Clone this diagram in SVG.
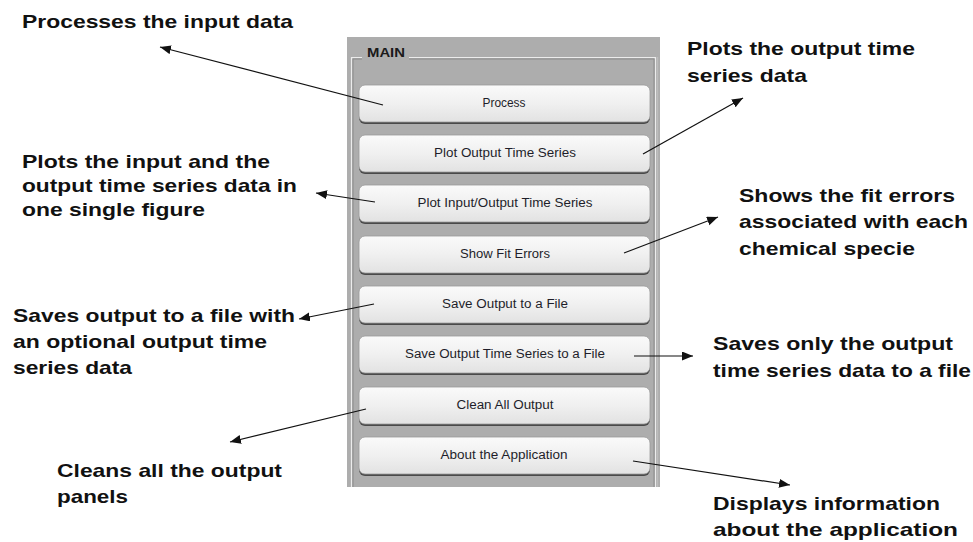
<svg xmlns="http://www.w3.org/2000/svg" width="973" height="542" viewBox="0 0 973 542">
<style>
.lbl{font-family:"Liberation Sans",Arial,sans-serif;font-weight:bold;font-size:18.5px;fill:#111}
.btxt{font-family:"Liberation Sans",Arial,sans-serif;font-size:12px;fill:#1e1e2a;text-anchor:middle}
.btn{fill:url(#bg);stroke:#9a9a9a;stroke-width:0.8}
.shadow{fill:#4a4a4a}
.conn{stroke:#111;stroke-width:1.2;fill:none;marker-end:url(#ah)}
</style>
<defs>
<linearGradient id="bg" x1="0" y1="0" x2="0" y2="1">
<stop offset="0" stop-color="#fafafa"/>
<stop offset="0.5" stop-color="#f0f0f0"/>
<stop offset="1" stop-color="#e2e2e2"/>
</linearGradient>
<marker id="ah" markerWidth="12" markerHeight="10" refX="11" refY="4.5" orient="auto" markerUnits="userSpaceOnUse">
<path d="M0,0 L11,4.5 L0,9 Z" fill="#111"/>
</marker>
</defs>
<rect width="973" height="542" fill="#fff"/>
<g id="panel">
<rect x="347" y="37" width="313" height="450" fill="#adadad"/>
<path d="M351.5,487 V57.5 H655.5 V487" fill="none" stroke="#ececec" stroke-width="1.2"/>
<path d="M353,487 V59 H654 V487" fill="none" stroke="#8c8c8c" stroke-width="1"/>
<path d="M657.5,57 V487" stroke="#bdbdbd" stroke-width="1.5"/>
<rect x="362" y="50" width="47" height="12" fill="#adadad"/>
<text x="367" y="57" style="font-family:'Liberation Sans',Arial,sans-serif;font-weight:bold;font-size:12px;fill:#1a1a1a" textLength="38" lengthAdjust="spacingAndGlyphs">MAIN</text>
</g>
<g id="btn-process"><rect class="shadow" x="359" y="87" width="291" height="37" rx="6"/><rect class="btn" x="359" y="85" width="291" height="37" rx="6"/><text class="btxt" x="504" y="107" textLength="43" lengthAdjust="spacingAndGlyphs">Process</text></g>
<g id="btn-plot-output"><rect class="shadow" x="359" y="137" width="291" height="37" rx="6"/><rect class="btn" x="359" y="135" width="291" height="37" rx="6"/><text class="btxt" x="505" y="157" textLength="142" lengthAdjust="spacingAndGlyphs">Plot Output Time Series</text></g>
<g id="btn-plot-io"><rect class="shadow" x="359" y="187" width="291" height="37" rx="6"/><rect class="btn" x="359" y="185" width="291" height="37" rx="6"/><text class="btxt" x="505" y="207" textLength="175" lengthAdjust="spacingAndGlyphs">Plot Input/Output Time Series</text></g>
<g id="btn-fit-errors"><rect class="shadow" x="359" y="238" width="291" height="37" rx="6"/><rect class="btn" x="359" y="236" width="291" height="37" rx="6"/><text class="btxt" x="505" y="258" textLength="90" lengthAdjust="spacingAndGlyphs">Show Fit Errors</text></g>
<g id="btn-save-output"><rect class="shadow" x="359" y="288" width="291" height="37" rx="6"/><rect class="btn" x="359" y="286" width="291" height="37" rx="6"/><text class="btxt" x="505" y="308" textLength="126" lengthAdjust="spacingAndGlyphs">Save Output to a File</text></g>
<g id="btn-save-ts"><rect class="shadow" x="359" y="338" width="291" height="37" rx="6"/><rect class="btn" x="359" y="336" width="291" height="37" rx="6"/><text class="btxt" x="505" y="358" textLength="200" lengthAdjust="spacingAndGlyphs">Save Output Time Series to a File</text></g>
<g id="btn-clean"><rect class="shadow" x="359" y="389" width="291" height="37" rx="6"/><rect class="btn" x="359" y="387" width="291" height="37" rx="6"/><text class="btxt" x="505" y="409" textLength="97" lengthAdjust="spacingAndGlyphs">Clean All Output</text></g>
<g id="btn-about"><rect class="shadow" x="359" y="439" width="291" height="37" rx="6"/><rect class="btn" x="359" y="437" width="291" height="37" rx="6"/><text class="btxt" x="504" y="459" textLength="127" lengthAdjust="spacingAndGlyphs">About the Application</text></g>

<g id="lbl-process"><text class="lbl" x="22" y="28" textLength="271" lengthAdjust="spacingAndGlyphs">Processes the input data</text></g>
<g id="lbl-plot-output"><text class="lbl" x="687" y="55" textLength="228" lengthAdjust="spacingAndGlyphs">Plots the output time</text><text class="lbl" x="687" y="82" textLength="120" lengthAdjust="spacingAndGlyphs">series data</text></g>
<g id="lbl-plot-io"><text class="lbl" x="22" y="168" textLength="248" lengthAdjust="spacingAndGlyphs">Plots the input and the</text><text class="lbl" x="22" y="192" textLength="275" lengthAdjust="spacingAndGlyphs">output time series data in</text><text class="lbl" x="22" y="216" textLength="183" lengthAdjust="spacingAndGlyphs">one single figure</text></g>
<g id="lbl-fit-errors"><text class="lbl" x="739" y="202" textLength="216" lengthAdjust="spacingAndGlyphs">Shows the fit errors</text><text class="lbl" x="739" y="228" textLength="229" lengthAdjust="spacingAndGlyphs">associated with each</text><text class="lbl" x="739" y="255" textLength="176" lengthAdjust="spacingAndGlyphs">chemical specie</text></g>
<g id="lbl-save-output"><text class="lbl" x="13" y="322" textLength="282" lengthAdjust="spacingAndGlyphs">Saves output to a file with</text><text class="lbl" x="13" y="348" textLength="254" lengthAdjust="spacingAndGlyphs">an optional output time</text><text class="lbl" x="13" y="374" textLength="119" lengthAdjust="spacingAndGlyphs">series data</text></g>
<g id="lbl-save-ts"><text class="lbl" x="713" y="350" textLength="240" lengthAdjust="spacingAndGlyphs">Saves only the output</text><text class="lbl" x="713" y="377" textLength="258" lengthAdjust="spacingAndGlyphs">time series data to a file</text></g>
<g id="lbl-clean"><text class="lbl" x="57" y="477" textLength="225" lengthAdjust="spacingAndGlyphs">Cleans all the output</text><text class="lbl" x="57" y="503" textLength="71" lengthAdjust="spacingAndGlyphs">panels</text></g>
<g id="lbl-about"><text class="lbl" x="713" y="510" textLength="227" lengthAdjust="spacingAndGlyphs">Displays information</text><text class="lbl" x="713" y="536" textLength="245" lengthAdjust="spacingAndGlyphs">about the application</text></g>

<g id="connectors">
<line class="conn" x1="383" y1="105" x2="160" y2="47"/>
<line class="conn" x1="643" y1="154" x2="743" y2="98"/>
<line class="conn" x1="375" y1="202" x2="316" y2="193"/>
<line class="conn" x1="624" y1="253" x2="718" y2="217"/>
<line class="conn" x1="374" y1="304" x2="299" y2="319"/>
<line class="conn" x1="634" y1="356" x2="693" y2="356"/>
<line class="conn" x1="366" y1="409" x2="230" y2="442"/>
<line class="conn" x1="633" y1="461" x2="790" y2="485"/>
</g>
</svg>
